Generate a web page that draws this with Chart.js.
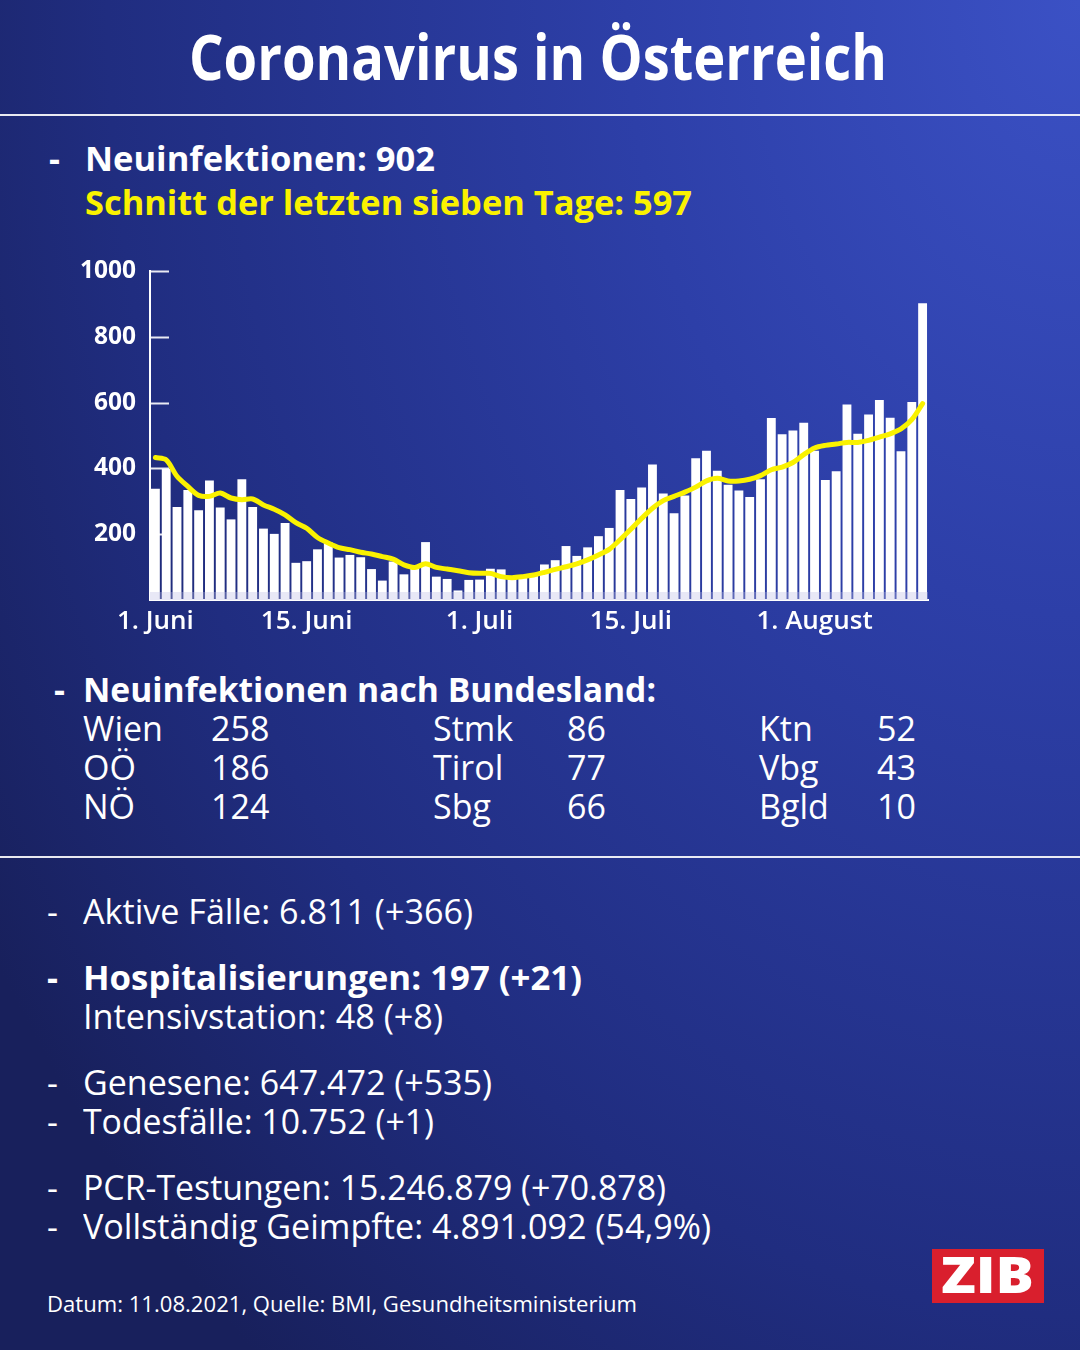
<!DOCTYPE html>
<html>
<head>
<meta charset="utf-8">
<script src="https://cdn.jsdelivr.net/npm/chart.js@4.4.1/dist/chart.umd.min.js"></script>
<style>
html,body{margin:0;padding:0;}
body{width:1080px;height:1350px;overflow:hidden;position:relative;font-family:'Open Sans',sans-serif;color:#fff;
  background:radial-gradient(ellipse 120% 130% at 100% 0%, #3b51c5 0%, #2d3fa8 35%, #202d80 75%, #18205c 100%);}
.t{position:absolute;white-space:nowrap;line-height:1;transform-origin:0 0;font-weight:400;}
.b{font-weight:700;}
.sb{font-weight:600;}
.y{color:#faf200;}
.hr{position:absolute;left:0;width:1080px;height:1.5px;background:rgba(255,255,255,0.9);}
#chartBox{position:absolute;left:0;top:240px;width:960px;height:420px;}
#logo{position:absolute;left:932px;top:1249px;width:112px;height:54px;background:#d91f2d;}
</style>
</head>
<body>
<div class="t b" data-x="190" data-b="80" data-fs="63" data-w="698">Coronavirus in Österreich</div>
<div class="hr" style="top:114px"></div>

<div class="t b" data-x="50" data-b="171" data-fs="34">-</div>
<div class="t b" data-x="86" data-b="171" data-fs="34" data-w="350">Neuinfektionen: 902</div>
<div class="t b y" data-x="86" data-b="215" data-fs="34" data-w="607">Schnitt der letzten sieben Tage: 597</div>

<div id="chartBox"><canvas id="c" width="960" height="420"></canvas></div>

<div class="t b" data-x="55" data-b="702" data-fs="34">-</div>
<div class="t b" data-x="84" data-b="702" data-fs="34" data-w="573">Neuinfektionen nach Bundesland:</div>
<div id="table"></div>

<div class="hr" style="top:856px"></div>

<div class="t" data-x="48" data-b="924" data-fs="34">-</div>
<div class="t" data-x="84" data-b="924" data-fs="34" data-w="390">Aktive Fälle: 6.811 (+366)</div>
<div class="t b" data-x="48" data-b="990" data-fs="34">-</div>
<div class="t b" data-x="84" data-b="990" data-fs="34" data-w="499">Hospitalisierungen: 197 (+21)</div>
<div class="t" data-x="84" data-b="1029" data-fs="34" data-w="360">Intensivstation: 48 (+8)</div>
<div class="t" data-x="48" data-b="1095" data-fs="34">-</div>
<div class="t" data-x="84" data-b="1095" data-fs="34" data-w="409">Genesene: 647.472 (+535)</div>
<div class="t" data-x="48" data-b="1134" data-fs="34">-</div>
<div class="t" data-x="84" data-b="1134" data-fs="34" data-w="351">Todesfälle: 10.752 (+1)</div>
<div class="t" data-x="48" data-b="1200" data-fs="34">-</div>
<div class="t" data-x="84" data-b="1200" data-fs="34" data-w="583">PCR-Testungen: 15.246.879 (+70.878)</div>
<div class="t" data-x="48" data-b="1239" data-fs="34">-</div>
<div class="t" data-x="84" data-b="1239" data-fs="34" data-w="628">Vollständig Geimpfte: 4.891.092 (54,9%)</div>

<div class="t" data-x="48" data-b="1313" data-fs="21" data-w="590">Datum: 11.08.2021, Quelle: BMI, Gesundheitsministerium</div>

<div id="logo"></div>
<div class="t b" data-x="942" data-b="1294" data-fs="49" data-w="93" style="font-weight:800">ZIB</div>

<script>
// ---- data ----
const monthDays = [30, 31, 11];
const monthNums = ['06', '07', '08'];
const dates = [];
monthDays.forEach((n, m) => { for (let d = 1; d <= n; d++) dates.push(d + '.' + monthNums[m] + '.'); });

const newCases = [
  338, 399, 283, 334, 273, 363, 281, 245, 367, 283,
  217, 201, 234, 113, 118, 154, 175, 129, 137, 130,
  94, 59, 117, 78, 98, 176, 71, 64, 29, 61,
  62, 95, 93, 72, 68, 80, 108, 121, 164, 134,
  160, 194, 219, 334, 307, 342, 412, 324, 264, 318,
  431, 454, 393, 350, 333, 313, 367, 553, 504, 515,
  539, 454, 365, 391, 594, 505, 564, 608, 554, 452,
  602, 902
];
const avg7 = [
  433, 426, 376, 345, 318, 315, 325, 310, 305, 307,
  289, 276, 259, 235, 218, 190, 173, 159, 153, 145,
  140, 132, 124, 107, 99, 110, 99, 94, 89, 83,
  81, 81, 71, 68, 71, 76, 84, 93, 101, 110,
  122, 137, 154, 183, 215, 248, 279, 302, 315, 328,
  343, 362, 370, 362, 362, 367, 378, 396, 404, 418,
  442, 462, 470, 474, 479, 479, 485, 495, 505, 520,
  548, 597
];
const yTicks = [200, 400, 600, 800, 1000];
const xTickIdx = [0, 14, 30, 44, 61];
const xTickText = ['1. Juni', '15. Juni', '1. Juli', '15. Juli', '1. August'];

const stateNames = [['Wien', 'OÖ', 'NÖ'], ['Stmk', 'Tirol', 'Sbg'], ['Ktn', 'Vbg', 'Bgld']];
const stateValues = [[258, 186, 124], [86, 77, 66], [52, 43, 10]];

// ---- table ----
const colNameX = [84, 434, 760], colValX = [212, 568, 878], rowB = [741, 780, 819];
const tbl = document.getElementById('table');
stateNames.forEach((col, c) => col.forEach((name, r) => {
  const a = document.createElement('div'); a.className = 't'; a.textContent = name;
  a.dataset.x = colNameX[c]; a.dataset.b = rowB[r]; a.dataset.fs = 34; tbl.appendChild(a);
  const v = document.createElement('div'); v.className = 't'; v.textContent = stateValues[c][r];
  v.dataset.x = colValX[c]; v.dataset.b = rowB[r]; v.dataset.fs = 34; tbl.appendChild(v);
}));

// ---- text placement ----
document.querySelectorAll('.t').forEach(el => {
  const fs = +el.dataset.fs, x = +el.dataset.x, b = +el.dataset.b;
  el.style.fontSize = fs + 'px';
  el.style.left = (x - 1) + 'px';
  el.style.top = (b - 0.888 * fs) + 'px';
});
function fit() {
  document.querySelectorAll('.t[data-w]').forEach(el => {
    el.style.transform = 'none';
    const w = el.getBoundingClientRect().width;
    if (w > 0) el.style.transform = 'scaleX(' + (+el.dataset.w / w) + ')';
  });
}
fit();
if (document.fonts && document.fonts.ready) document.fonts.ready.then(fit);

// ---- chart ----
const innerMarks = {
  id: 'innerMarks',
  afterDatasetsDraw(chart) {
    const { ctx, chartArea, scales: { y } } = chart;
    ctx.save();
    ctx.fillStyle = 'rgba(190,190,228,0.35)';
    ctx.fillRect(chartArea.left, chartArea.bottom - 8, chartArea.right - chartArea.left, 8);
    ctx.strokeStyle = 'rgba(255,255,255,0.9)';
    ctx.lineWidth = 2;
    ctx.beginPath();
    y.ticks.forEach(t => {
      if (!yTicks.includes(t.value)) return;
      const py = Math.round(y.getPixelForValue(t.value)) + 0.5;
      ctx.moveTo(chartArea.left, py);
      ctx.lineTo(chartArea.left + 19, py);
    });
    ctx.stroke();
    ctx.restore();
  }
};

Chart.defaults.font.family = "'Open Sans', sans-serif";
new Chart(document.getElementById('c'), {
  type: 'bar',
  data: {
    labels: dates,
    datasets: [
      { type: 'line', data: avg7, borderColor: '#faf200', borderWidth: 5, pointRadius: 0,
        tension: 0.3, order: 0, borderCapStyle: 'round', borderJoinStyle: 'round' },
      { type: 'bar', data: newCases, backgroundColor: '#ffffff', barPercentage: 0.82,
        categoryPercentage: 1, order: 1 }
    ]
  },
  options: {
    responsive: false,
    animation: false,
    layout: { padding: { top: 31, right: 32, left: 0, bottom: 0 } },
    plugins: { legend: { display: false }, tooltip: { enabled: false } },
    scales: {
      x: {
        offset: true,
        grid: { display: true, drawOnChartArea: false, drawTicks: false, color: 'rgba(0,0,0,0)' },
        border: { display: true, color: '#ffffff', width: 2 },
        ticks: {
          autoSkip: false, maxRotation: 0, minRotation: 0, padding: 6, color: '#ffffff',
          font: { size: 26, weight: 600 },
          callback: (v, i) => { const k = xTickIdx.indexOf(i); return k >= 0 ? xTickText[k] : ''; }
        },
        afterFit: s => { s.height = 60; }
      },
      y: {
        min: 0, max: 1000,
        grid: { display: true, drawOnChartArea: false, drawTicks: false, color: 'rgba(0,0,0,0)' },
        border: { display: true, color: '#ffffff', width: 2 },
        ticks: {
          stepSize: 200, padding: 14, color: '#ffffff',
          font: { size: 24.5, weight: 700 },
          callback: v => yTicks.includes(v) ? String(v) : ''
        },
        afterFit: s => { s.width = 150; }
      }
    }
  },
  plugins: [innerMarks]
});
</script>
</body>
</html>
